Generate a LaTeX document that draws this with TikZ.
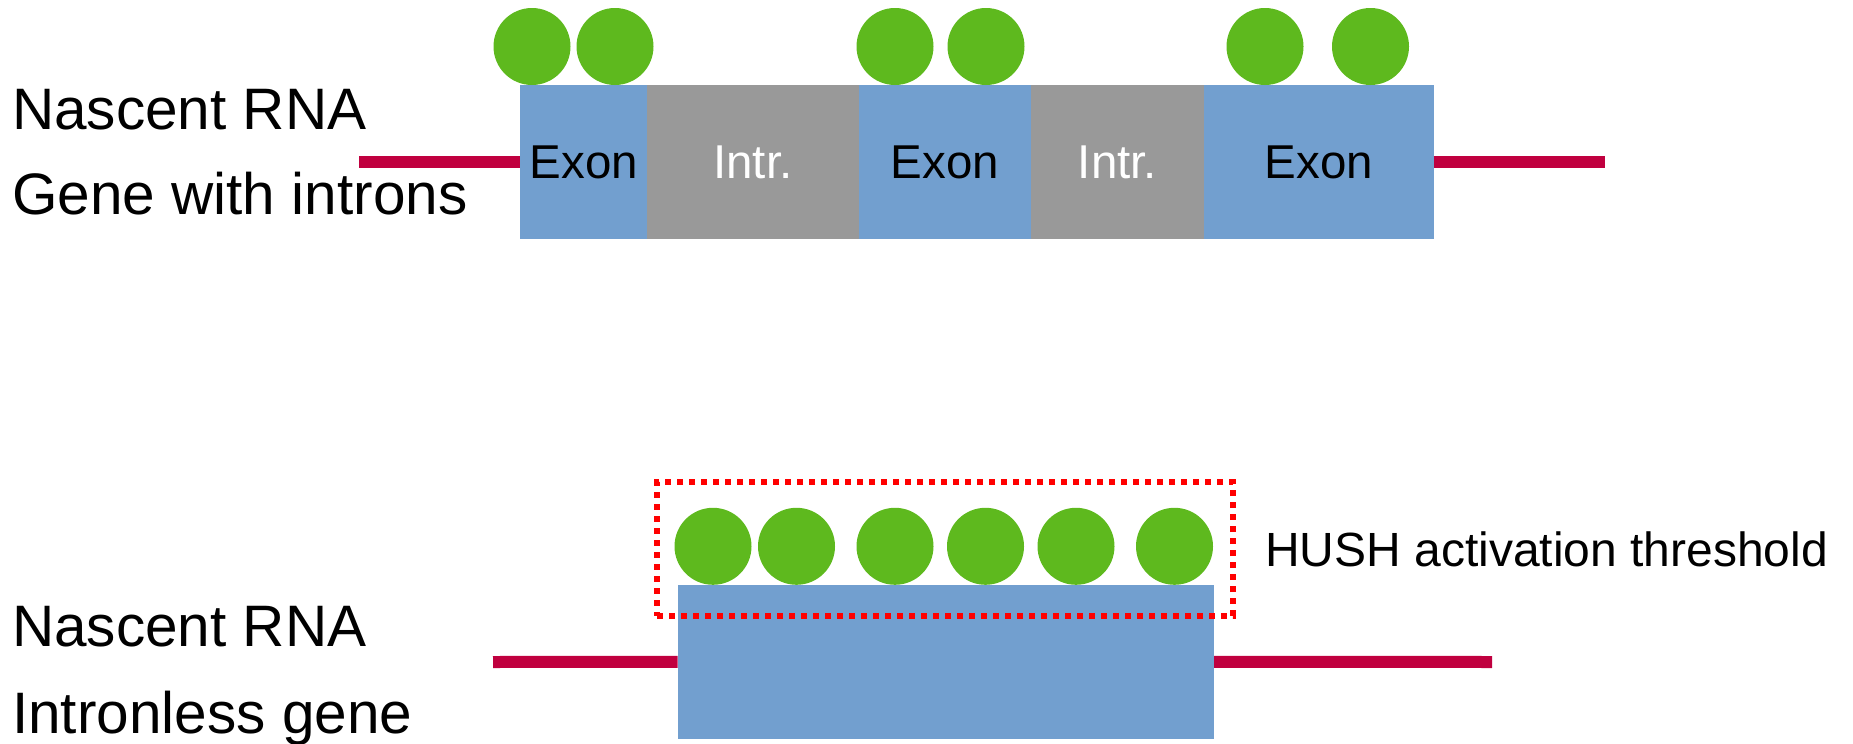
\documentclass[tikz,border=0pt]{standalone}
\usepackage{fontspec}
\setmainfont{Liberation Sans}
\definecolor{exonblue}{HTML}{729FCF}
\definecolor{intrgray}{HTML}{999999}
\definecolor{dotgreen}{HTML}{5EB91E}
\definecolor{rnared}{HTML}{C0003F}
\definecolor{hushred}{HTML}{FF0000}
\begin{document}
\begin{tikzpicture}[x=1pt,y=-1pt,
  block/.style={rectangle,inner sep=0pt,minimum height=154pt,anchor=center,font=\fontsize{47.5}{56}\selectfont},
  exonbox/.style={block,fill=exonblue,text=black},
  intrbox/.style={block,fill=intrgray,text=white},
  dot/.style={circle,fill=dotgreen,inner sep=0pt,minimum size=77pt},
  rnaline/.style={draw=rnared,line width=12pt},
  label/.style={anchor=base west,inner sep=0pt,font=\fontsize{58.5}{70}\selectfont},
  hushbox/.style={rectangle,draw=hushred,line width=5.5pt,dash pattern=on 6pt off 6pt,inner sep=0pt,minimum width=576pt,minimum height=134pt}
]
\useasboundingbox (0,0) rectangle (1853,744);
% ---------- top: gene with introns ----------
\coordinate (tl) at (359,162);
\coordinate (tr) at (1605,162);
\node[exonbox,minimum width=127.3pt] (e1) at (583.7,162) {Exon};
\node[intrbox,minimum width=211.2pt] (i1) at (752.9,162) {Intr.};
\node[exonbox,minimum width=172.5pt] (e2) at (944.75,162) {Exon};
\node[intrbox,minimum width=173pt] (i2) at (1117.5,162) {Intr.};
\node[exonbox,minimum width=229.5pt] (e3) at (1318.75,162) {Exon};
\draw[rnaline] (tl) -- (e1.west);
\draw[rnaline] (e3.east) -- (tr);
\node[dot] (c1) at (532,46.5) {};
\node[dot] (c2) at (615,46.5) {};
\node[dot] (c3) at (895,46.5) {};
\node[dot] (c4) at (986,46.5) {};
\node[dot] (c5) at (1265,46.5) {};
\node[dot] (c6) at (1370.5,46.5) {};
\node[label] (n1) at (12,129) {Nascent RNA};
\node[label] (g1) at (12,214) {Gene with introns};
% ---------- bottom: intronless gene ----------
\coordinate (bl) at (493,662);
\coordinate (br) at (1492,662);
\node[exonbox,minimum width=536pt,minimum height=153.6pt] (gene) at (945.9,661.8) {};
\draw[rnaline] (bl) -- (gene.west);
\draw[rnaline] (gene.east) -- (br);
\node[dot] (d1) at (713,546.3) {};
\node[dot] (d2) at (796.5,546.3) {};
\node[dot] (d3) at (895,546.3) {};
\node[dot] (d4) at (985.5,546.3) {};
\node[dot] (d5) at (1076,546.3) {};
\node[dot] (d6) at (1174.5,546.3) {};
\node[hushbox] (hush) at (945,549) {};
\node[label,font=\fontsize{48}{57}\selectfont] (ht) at (1265,566.7) {HUSH activation threshold};
\node[label] (n2) at (12,646) {Nascent RNA};
\node[label] (g2) at (12,733) {Intronless gene};
\end{tikzpicture}
\end{document}
